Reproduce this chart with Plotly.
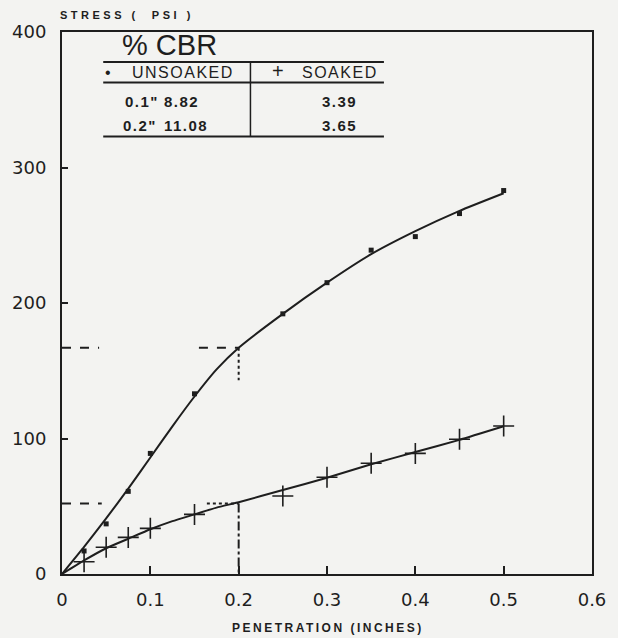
import plotly.graph_objects as go

# ---- data ----
penetration_pts = [0.025, 0.05, 0.075, 0.1, 0.15, 0.25, 0.3, 0.35, 0.4, 0.45, 0.5]
unsoaked_pts = [17, 37, 61, 89, 133, 192, 215, 239, 249, 266, 283]
soaked_pts = [9, 19.7, 27, 33.7, 44, 57.6, 71.4, 81.7, 89, 99.4, 109.2]

curve_x = [0, 0.025, 0.05, 0.075, 0.1, 0.125, 0.15, 0.175, 0.2, 0.25, 0.3, 0.35, 0.4, 0.45, 0.5]
unsoaked_curve = [0, 20, 41, 63, 86, 109, 131, 151, 167, 192, 215, 236, 253, 268, 281]
soaked_curve = [0, 10, 19, 26, 33, 39, 44, 49, 53, 62, 71, 81, 90, 99, 109]

# stresses at 0.2" used for the CBR construction lines
unsoaked_02 = 167
soaked_02 = 52

x_ticks = [0, 0.1, 0.2, 0.3, 0.4, 0.5, 0.6]
x_tick_labels = ["0", "0.1", "0.2", "0.3", "0.4", "0.5", "0.6"]
y_ticks = [0, 100, 200, 300, 400]

table_rows = [['0.1"', "8.82", "3.39"], ['0.2"', "11.08", "3.65"]]

INK = "#1e1e1e"
BG = "#f3f3f1"

fig = go.Figure()

# fitted curves
fig.add_trace(go.Scatter(x=curve_x, y=unsoaked_curve, mode="lines",
                         line=dict(color=INK, width=2, shape="spline", smoothing=0.5),
                         showlegend=False))
fig.add_trace(go.Scatter(x=curve_x, y=soaked_curve, mode="lines",
                         line=dict(color=INK, width=2, shape="spline", smoothing=0.5),
                         showlegend=False))
# points
fig.add_trace(go.Scatter(x=penetration_pts, y=unsoaked_pts, mode="markers",
                         marker=dict(symbol="square", size=5, color=INK),
                         showlegend=False))
fig.add_trace(go.Scatter(x=penetration_pts, y=soaked_pts, mode="markers",
                         marker=dict(symbol="cross-thin", size=15,
                                     line=dict(color=INK, width=1.6)),
                         showlegend=False))

# construction lines
def seg(xs, ys, dash, width=2):
    fig.add_trace(go.Scatter(x=xs, y=ys, mode="lines",
                             line=dict(color=INK, width=width, dash=dash),
                             showlegend=False, hoverinfo="skip"))

seg([0, 0.042], [unsoaked_02, unsoaked_02], "dash")
seg([0.155, 0.2], [unsoaked_02, unsoaked_02], "dash")
seg([0.2, 0.2], [unsoaked_02, unsoaked_02 - 24], "dot")
seg([0, 0.045], [soaked_02, soaked_02], "dash")
seg([0.164, 0.2], [soaked_02, soaked_02], "dot")
seg([0.2, 0.2], [soaked_02, 0], "dashdot")

L, T, W, H = 60, 32, 540, 542
def px(X):
    return (X - L) / W
def py(Y):
    return (T + H - Y) / H

shapes = []
for Y in (62, 82.5, 136.5):
    shapes.append(dict(type="line", xref="paper", yref="paper",
                       x0=px(102), x1=px(388), y0=py(Y), y1=py(Y),
                       line=dict(color=INK, width=2)))
shapes.append(dict(type="line", xref="paper", yref="paper",
                   x0=px(252), x1=px(252), y0=py(62), y1=py(136.5),
                   line=dict(color=INK, width=1.5)))

TF = "Liberation Sans, Arial, sans-serif"
ann = []
def text(t, X, Y, size, anchor="left", bold=False, spacing=0, family=TF):
    if spacing:
        t = '<span style="letter-spacing:%spx">%s</span>' % (spacing, t)
    if bold:
        t = "<b>%s</b>" % t
    ann.append(dict(text=t, x=px(X), y=py(Y),
                    xref="paper", yref="paper", xanchor=anchor, yanchor="middle",
                    showarrow=False, font=dict(size=size, color=INK, family=family)))

text("% CBR", 119, 45, 29)
text("•", 102, 72, 16)
text("UNSOAKED", 129, 72, 16, spacing=1.5)
text("+", 272, 71, 20)
text("SOAKED", 302, 72, 16, spacing=1.5)
text(table_rows[0][0], 122, 101, 15, bold=True, spacing=1.5)
text(table_rows[0][1], 162, 101, 15, bold=True, spacing=1.5)
text(table_rows[1][0], 120, 126, 15, bold=True, spacing=1.5)
text(table_rows[1][1], 162, 126, 15, bold=True, spacing=1.5)
text(table_rows[0][2], 323, 101, 15, bold=True, spacing=1.5)
text(table_rows[1][2], 323, 126, 15, bold=True, spacing=1.5)

text("STRESS (\u00a0\u00a0PSI\u00a0)", 56, 15, 11, bold=True, spacing=3.5)
text("PENETRATION (INCHES)", 331, 628, 12, anchor="center", bold=True, spacing=2.5)

fig.update_layout(
    width=618, height=638,
    margin=dict(l=L, r=618 - L - W, t=T, b=638 - T - H),
    paper_bgcolor=BG, plot_bgcolor=BG,
    shapes=shapes, annotations=ann,
    showlegend=False,
)
fig.update_xaxes(range=[0, 0.6], tickvals=x_ticks, ticktext=x_tick_labels,
                 showgrid=False, zeroline=False, showline=True, linewidth=2,
                 linecolor=INK, mirror=True, ticks="inside", ticklen=8, tickwidth=1.5,
                 tickcolor=INK, ticklabelstandoff=8,
                 tickfont=dict(size=18, color=INK, family="DejaVu Sans"))
fig.update_yaxes(range=[0, 400], tickvals=y_ticks,
                 showgrid=False, zeroline=False, showline=True, linewidth=2,
                 linecolor=INK, mirror=True, ticks="inside", ticklen=6, tickwidth=1.5,
                 tickcolor=INK, ticklabelstandoff=10,
                 tickfont=dict(size=18, color=INK, family="DejaVu Sans"))

fig.write_html("out.html")
